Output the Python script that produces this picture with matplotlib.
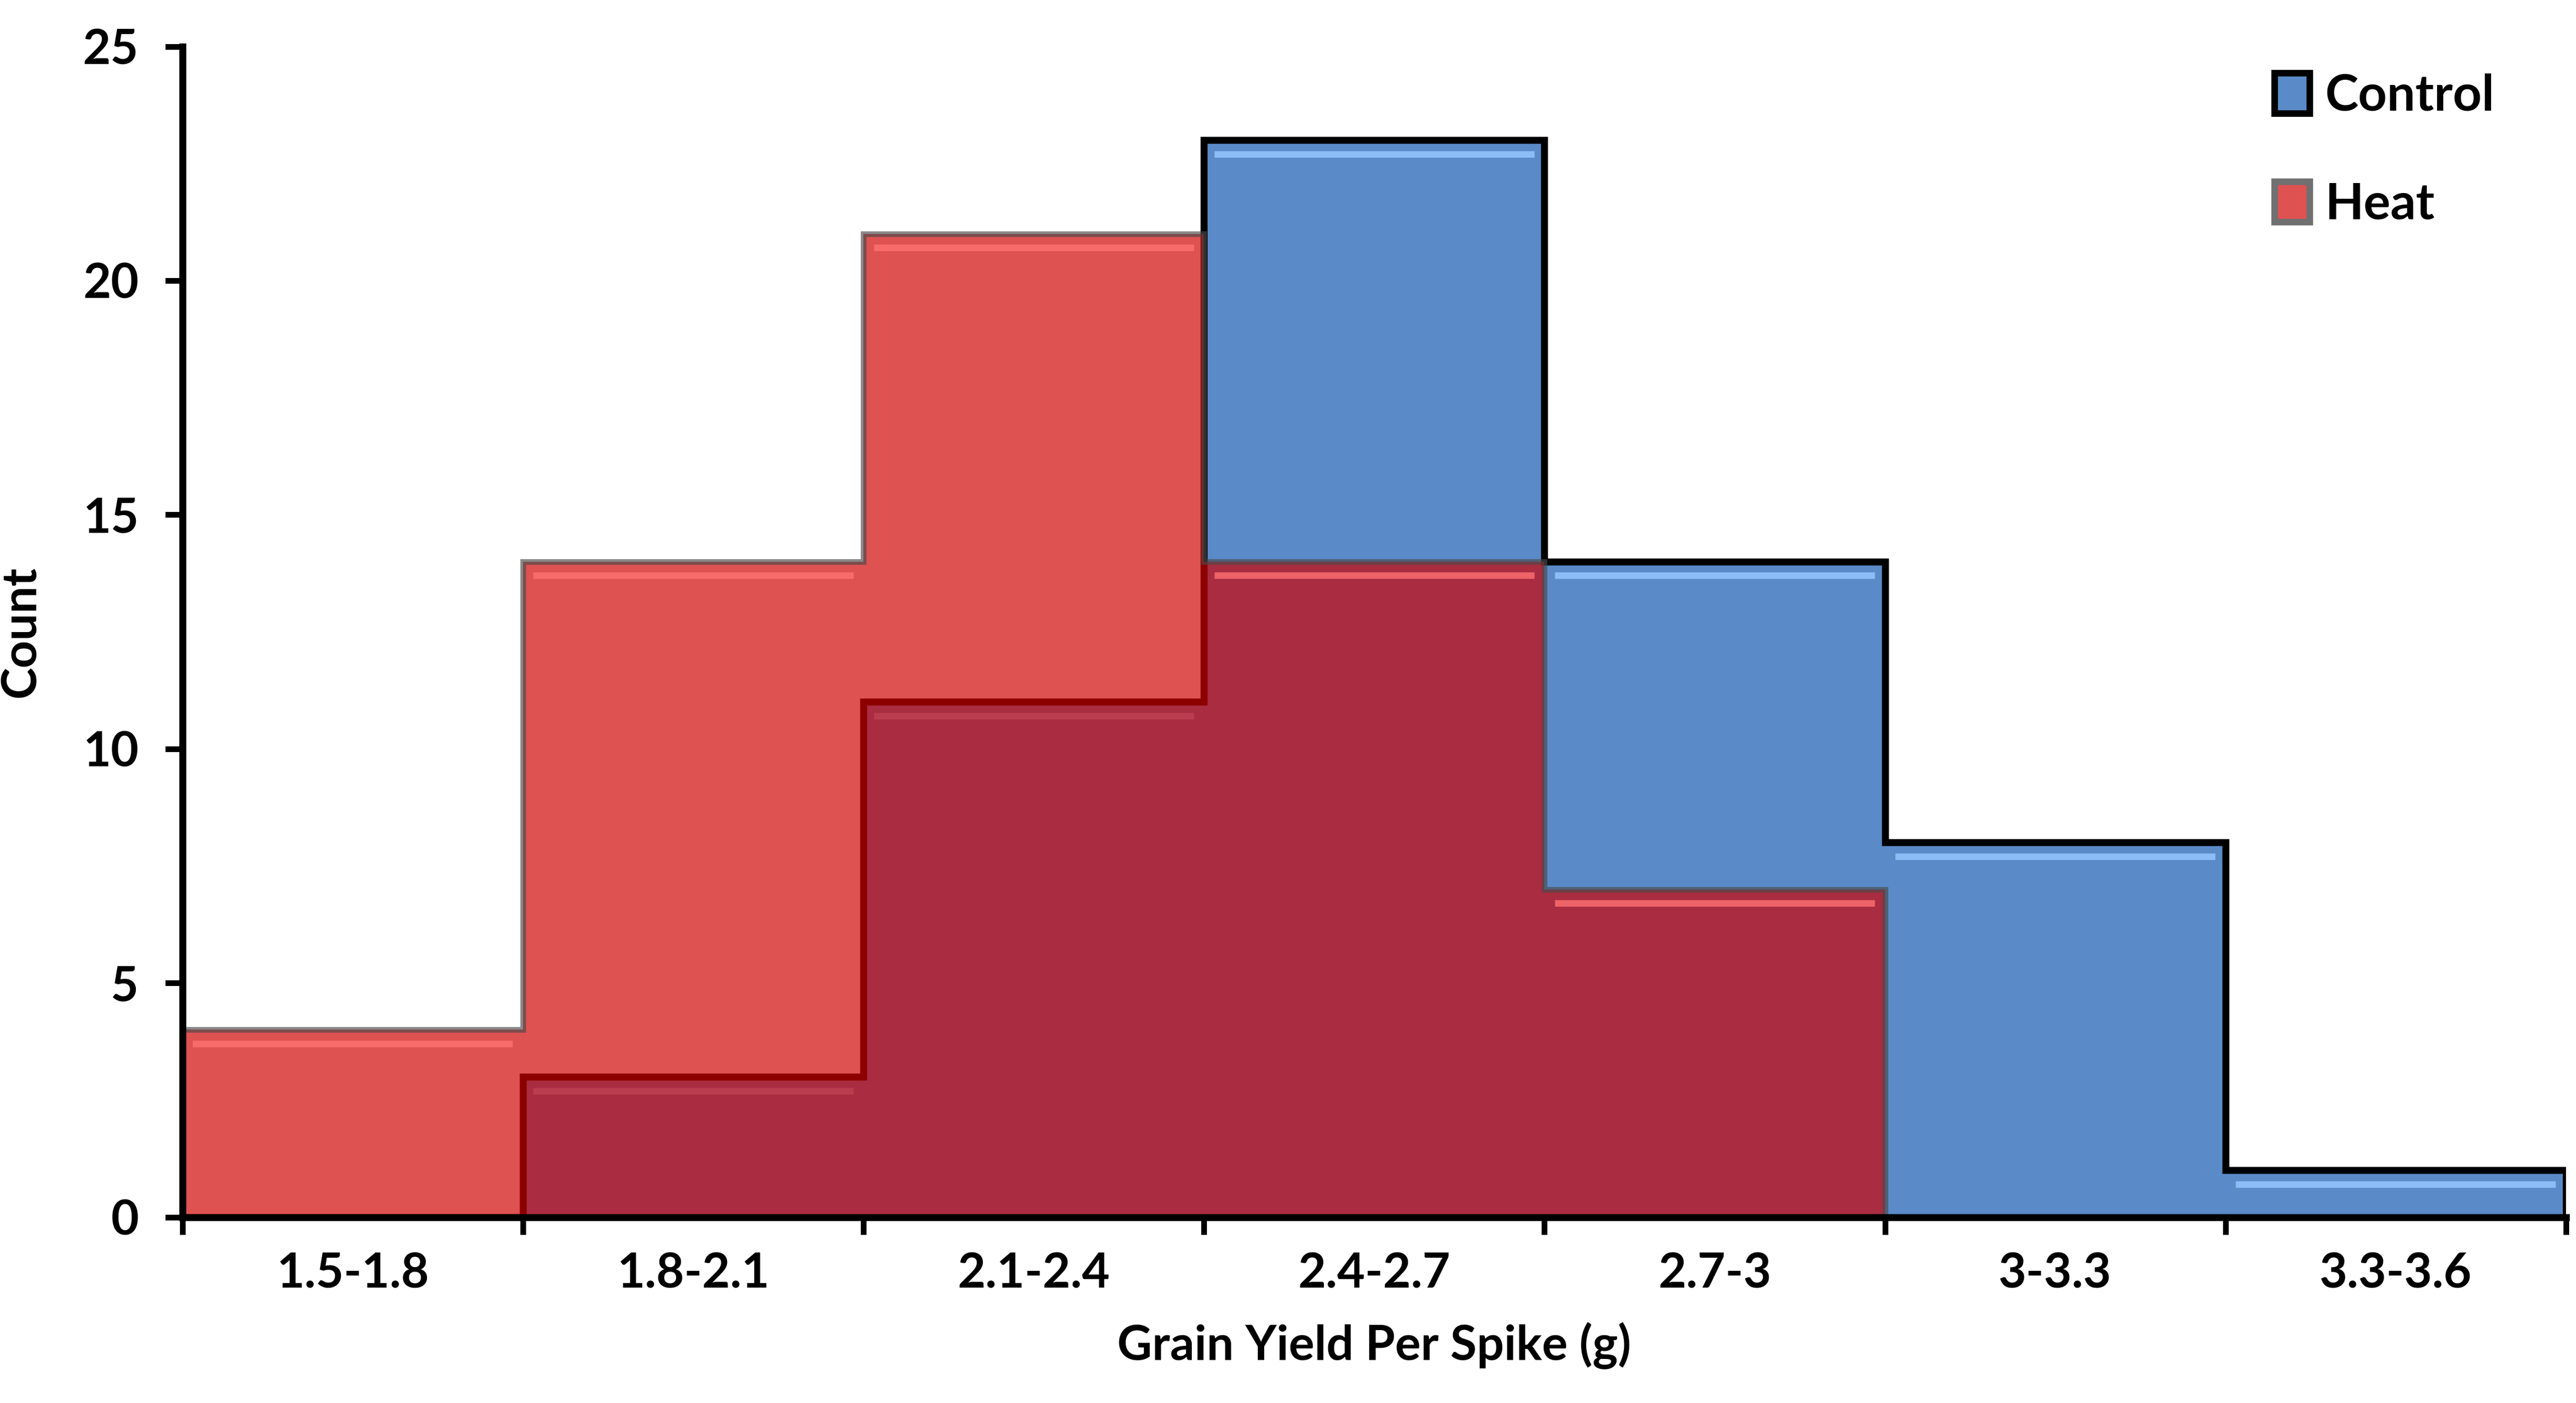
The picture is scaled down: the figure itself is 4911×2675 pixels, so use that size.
import numpy as np
import matplotlib
matplotlib.use('Agg')
import matplotlib.pyplot as plt
from matplotlib.patches import Patch

plt.rcParams['font.family'] = ['Lato', 'DejaVu Sans']
plt.rcParams['font.weight'] = 'bold'

# histogram bins (g) and counts
bins = ['1.5-1.8', '1.8-2.1', '2.1-2.4', '2.4-2.7', '2.7-3', '3-3.3', '3.3-3.6']
control = [0, 3, 11, 23, 14, 8, 1]
heat = [4, 14, 21, 14, 7, 0, 0]

blue = '#5a8bc8'
red = (0.81, 0.0, 0.0, 0.68)

fig = plt.figure(figsize=(4911 / 300, 2675 / 300), dpi=300)
ax = fig.add_axes([0.0708, 0.1325, 0.9253, 0.8344])

edges = np.arange(len(bins) + 1)
x = edges[:-1]

# control underneath, heat semi-transparent on top
ax.bar(x, control, width=1.0, align='edge', color=blue, linewidth=0, zorder=2)
# light bevel strip along the top of each bar
for xi, v in zip(x, control):
    if v > 0:
        ax.plot([xi + 0.03, xi + 0.97], [v - 0.3, v - 0.3], color='#8dbdf7', lw=3, zorder=2.5,
                solid_capstyle='butt')
ax.stairs(control, edges, color='black', linewidth=3.2, baseline=None, zorder=3)
# vertical drop at the right end of control
ax.vlines(edges[-1], 0, control[-1], color='black', linewidth=3.2, zorder=3)

ax.bar(x, heat, width=1.0, align='edge', color=red, linewidth=0, zorder=4)
for xi, v in zip(x, heat):
    if v > 0:
        ax.plot([xi + 0.03, xi + 0.97], [v - 0.3, v - 0.3], color='#ff7272', lw=3, alpha=0.8,
                zorder=4.5, solid_capstyle='butt')
ax.stairs(heat, edges, color='#4a4a4a', alpha=0.65, linewidth=2.6, baseline=None, zorder=5)

ax.set_xlim(0, len(bins))
ax.set_ylim(0, 25)
ax.set_yticks(range(0, 26, 5))
ax.set_xticks(edges)
ax.set_xticklabels([])
ax.set_xticks(x + 0.5, minor=True)
ax.set_xticklabels(bins, minor=True)

for s in ['top', 'right']:
    ax.spines[s].set_visible(False)
for s in ['left', 'bottom']:
    ax.spines[s].set_linewidth(3.2)
    ax.spines[s].set_zorder(6)

ax.tick_params(axis='both', which='major', direction='out', length=8, width=2.6, labelsize=22)
ax.tick_params(axis='x', which='minor', length=0, pad=16, labelsize=22)
ax.tick_params(axis='y', which='major', pad=12)

ax.set_xlabel('Grain Yield Per Spike (g)', fontsize=22, fontweight='bold', labelpad=12)
ax.set_ylabel('Count', fontsize=22, fontweight='bold', labelpad=18)

handles = [Patch(facecolor=blue, edgecolor='black', linewidth=3),
           Patch(facecolor=red, edgecolor='#707070', linewidth=3)]
fig.legend(handles, ['Control', 'Heat'], loc='upper left', bbox_to_anchor=(0.883, 0.948),
           frameon=False, fontsize=23, handlelength=0.7, handleheight=0.85,
           handletextpad=0.3, labelspacing=1.25, borderpad=0, borderaxespad=0)

fig.savefig('out.png', dpi=300)
